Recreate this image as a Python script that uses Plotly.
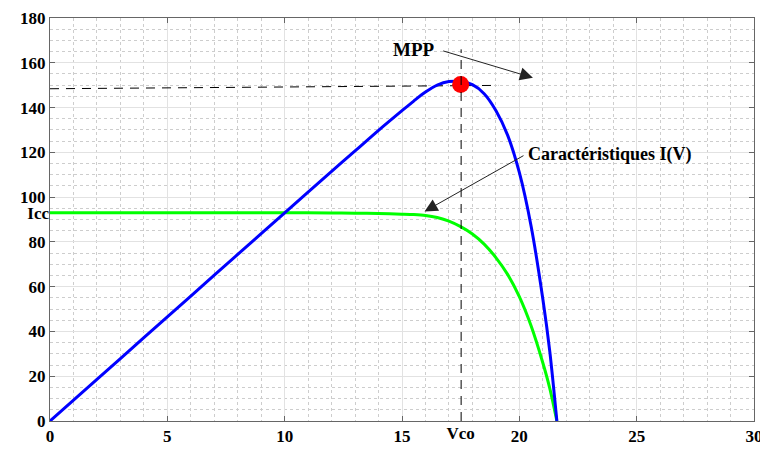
import plotly.graph_objects as go

# ---- data ----
voltage = [0, 2, 4, 6, 8, 10, 12, 13, 14, 15, 15.5, 16, 16.5, 17, 17.5, 18,
           18.5, 19, 19.5, 20, 20.5, 21, 21.3, 21.6]
current = [93, 93, 93, 93, 93, 93, 92.9, 92.8, 92.7, 92.4, 92.2, 91.8, 90.9,
           89.3, 86.8, 83.5, 79, 73, 65.5, 55.5, 42.5, 26, 14.5, 0]
power = [0, 18.6, 37.2, 55.8, 74.4, 93, 111.5, 120.6, 129.8, 138.6, 142.9,
         146.9, 150, 151.6, 151.6, 150.2, 146.2, 138.7, 127.7, 111, 87.1,
         54.6, 30.9, 0]

mpp_v = [17.5]
mpp_p = [150.3]
v_co = 17.5
i_cc = 93

h_dash_v = [0, 19.1]
h_dash_p = [148.4, 149.9]
v_dash_v = [17.52, 17.52]
v_dash_p = [0, 166]

x_ticks = [0, 5, 10, 15, 20, 25, 30]
y_ticks = [0, 20, 40, 60, 80, 100, 120, 140, 160, 180]

FONT = "Liberation Serif"
tickfont = dict(family=FONT, size=17, color="black", weight="bold")

fig = go.Figure()

fig.add_trace(go.Scatter(x=h_dash_v, y=h_dash_p, mode="lines",
                         line=dict(color="black", width=1, dash="9px,7px"),
                         hoverinfo="skip", showlegend=False))
fig.add_trace(go.Scatter(x=v_dash_v, y=v_dash_p, mode="lines",
                         line=dict(color="black", width=1, dash="9px,7px"),
                         xaxis="x2", yaxis="y2",
                         hoverinfo="skip", showlegend=False))
fig.add_trace(go.Scatter(x=voltage, y=current, mode="lines",
                         line=dict(color="#00ff00", width=3, shape="spline", smoothing=0.8),
                         showlegend=False))
fig.add_trace(go.Scatter(x=voltage, y=power, mode="lines",
                         line=dict(color="#0000ff", width=3, shape="spline", smoothing=0.8),
                         showlegend=False))
fig.add_trace(go.Scatter(x=mpp_v, y=mpp_p, mode="markers",
                         marker=dict(color="#ff0000", size=17),
                         showlegend=False))

axis_common = dict(showline=True, linecolor="#666666", linewidth=1, mirror="ticks",
                   ticks="inside", ticklen=5, tickcolor="#666666",
                   zeroline=False, showgrid=True, gridcolor="#e2e2e2", gridwidth=1,
                   tickfont=tickfont, ticklabeloverflow="allow", automargin=False)

fig.update_layout(
    width=760, height=449,
    margin=dict(l=50, r=6, t=18, b=28, autoexpand=False),
    paper_bgcolor="white", plot_bgcolor="white",
    xaxis=dict(range=[0, 30], tickmode="array", tickvals=x_ticks,
               minor=dict(dtick=1, tick0=0, showgrid=True, gridcolor="#cdcdcd",
                          griddash="dot", ticks=""),
               **axis_common),
    yaxis=dict(range=[0, 180], tickmode="array", tickvals=y_ticks,
               minor=dict(dtick=5, tick0=0, showgrid=True, gridcolor="#cdcdcd",
                          griddash="dot", ticks=""),
               **axis_common),
    xaxis2=dict(overlaying="x", matches="x", range=[0, 30], side="bottom",
                tickmode="array", tickvals=[v_co], ticktext=["Vco"],
                showgrid=False, showline=False, zeroline=False, ticks="",
                automargin=False, tickfont=tickfont),
    yaxis2=dict(overlaying="y", matches="y", range=[0, 180], side="left",
                tickmode="array", tickvals=[i_cc], ticktext=["Icc"],
                showgrid=False, showline=False, zeroline=False, ticks="",
                automargin=False, tickfont=tickfont),
)

# text labels
fig.add_annotation(x=15.51, y=165.8, xref="x", yref="y", text="<b>MPP</b>",
                   showarrow=False, font=dict(family=FONT, size=19, color="black"))
fig.add_annotation(x=20.3, y=118.9, xref="x", yref="y", text="<b>Caractéristiques I(V)</b>",
                   xanchor="left", showarrow=False,
                   font=dict(family=FONT, size=18, color="black"))
# arrows
fig.add_annotation(x=20.58, y=153.3, ax=16.69, ay=165.5, xref="x", yref="y",
                   axref="x", ayref="y", text="", showarrow=True,
                   arrowhead=2, arrowsize=2.6, arrowwidth=1, arrowcolor="#222222")
fig.add_annotation(x=15.96, y=93.6, ax=20.24, ay=118.9, xref="x", yref="y",
                   axref="x", ayref="y", text="", showarrow=True,
                   arrowhead=2, arrowsize=2.6, arrowwidth=1, arrowcolor="#222222")

# remove the page's default body margin and clip anything past the figure edge
page_js = (
    "document.body.style.margin='0';"
    "document.body.style.overflow='hidden';"
    "document.documentElement.style.overflow='hidden';"
    "var gd=document.getElementsByClassName('plotly-graph-div')[0];"
    "gd.style.overflow='hidden';"
    "gd.parentNode.style.overflow='hidden';"
    "gd.parentNode.style.width='760px';"
)
fig.write_html("out.html", config={"displayModeBar": False}, post_script=page_js)
